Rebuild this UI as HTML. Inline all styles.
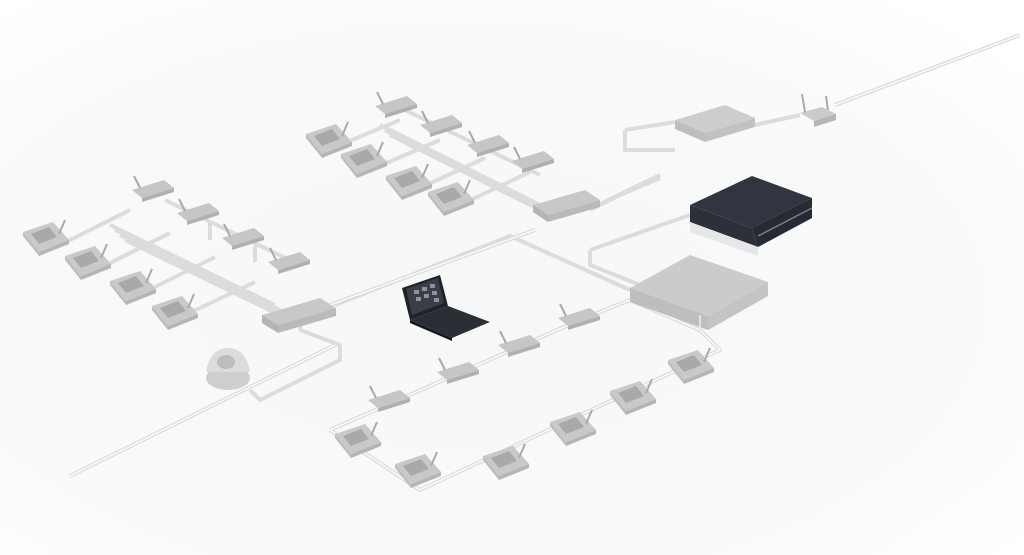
<!DOCTYPE html>
<html><head><style>
html,body{margin:0;padding:0;background:#fff;}
svg{display:block}
</style></head><body>
<svg width="1024" height="555" viewBox="0 0 1024 555" xmlns="http://www.w3.org/2000/svg">
<defs>
<radialGradient id="bg" cx="0.45" cy="0.55" r="0.7">
<stop offset="0" stop-color="#f6f7f8"/><stop offset="0.7" stop-color="#f9fafa"/><stop offset="1" stop-color="#ffffff"/>
</radialGradient>
<g id="con">
<polygon points="-22,-6 8,-16 24,2 -6,14" fill="#c9c9c9"/>
<polygon points="-6,14 24,2 24,6 -6,18" fill="#b5b5b5"/>
<polygon points="-22,-6 -6,14 -6,18 -22,-2" fill="#bdbdbd"/>
<polygon points="-14,-4 4,-11 12,-1 -6,6" fill="#a9a9a9"/>
<line x1="14" y1="-4" x2="20" y2="-18" stroke="#aaa" stroke-width="2"/>
</g>
<g id="mic">
<polygon points="-20,-2 12,-12 22,-4 -10,6" fill="#c6c6c6"/>
<polygon points="-10,6 22,-4 22,0 -10,10" fill="#b0b0b0"/>
<line x1="-12" y1="-4" x2="-18" y2="-16" stroke="#aaa" stroke-width="2"/>
</g>
</defs>
<rect width="1024" height="555" fill="url(#bg)"/>
<g fill="none" stroke="#dcdcdc" stroke-width="4" stroke-linejoin="round">
<path d="M70,476 L335,345 M300,330 L300,320 M330,305 L535,230 M590,210 L620,195 L660,178 M598,205 L660,175 M625,130 L625,150 L675,150 M625,130 L675,122 M755,125 L800,115 M835,105 L1020,35"/>
<path d="M335,305 L510,236 L630,290 M590,250 L590,265 L640,285 M590,250 L690,215"/>
<path d="M300,330 L340,345 L340,360 L260,400 L250,390"/>
<path d="M330,430 L420,490 L720,350 L700,330 L630,300 L580,320 L330,430"/>
<path d="M110,225 L275,305 M115,230 L280,310 M120,235 L285,315 M125,240 L290,320"/>
<path d="M380,125 L540,205 M385,130 L545,210 M390,135 L550,215"/>
<path d="M60,245 L130,210 M100,268 L170,233 M145,292 L215,257 M185,315 L255,282"/>
<path d="M165,200 L300,265 M210,222 L210,240 M255,246 L255,262"/>
<path d="M340,145 L400,120 M375,168 L440,140 M420,188 L485,158 M460,205 L530,172 M405,110 L540,175"/>
</g>
<g fill="none" stroke="#fff" stroke-width="1.3">
<path d="M70,476 L335,345 M330,305 L535,230 M835,105 L1020,35 M330,430 L420,490 L720,350 L700,330 L630,300 L580,320 L330,430"/>
</g>
<!-- top group -->
<use href="#mic" x="395" y="108"/><use href="#mic" x="440" y="127"/><use href="#mic" x="487" y="147"/><use href="#mic" x="532" y="163"/>
<use href="#con" x="328" y="140"/><use href="#con" x="363" y="160"/><use href="#con" x="408" y="182"/><use href="#con" x="450" y="198"/>
<!-- left group -->
<use href="#mic" x="152" y="192"/><use href="#mic" x="197" y="215"/><use href="#mic" x="242" y="240"/><use href="#mic" x="288" y="264"/>
<use href="#con" x="45" y="238"/><use href="#con" x="87" y="262"/><use href="#con" x="132" y="287"/><use href="#con" x="174" y="312"/>
<!-- loop -->
<use href="#mic" x="388" y="402"/><use href="#mic" x="457" y="374"/><use href="#mic" x="518" y="347"/><use href="#mic" x="578" y="320"/>
<use href="#con" x="690" y="366"/><use href="#con" x="632" y="397"/><use href="#con" x="572" y="428"/><use href="#con" x="505" y="462"/>
<use href="#con" x="357" y="440"/><use href="#con" x="417" y="470"/>
<!-- switches -->
<polygon points="262,315 320,298 336,308 278,325" fill="#c8c8c8"/><polygon points="262,315 278,325 278,333 262,323" fill="#b4b4b4"/><polygon points="278,325 336,308 336,316 278,333" fill="#bababa"/>
<polygon points="533,205 585,190 600,200 548,215" fill="#c8c8c8"/><polygon points="533,205 548,215 548,222 533,212" fill="#b4b4b4"/><polygon points="548,215 600,200 600,207 548,222" fill="#bababa"/>
<!-- top box -->
<polygon points="675,120 725,105 755,118 705,133" fill="#cdcdcd"/><polygon points="675,120 705,133 705,142 675,129" fill="#bdbdbd"/><polygon points="705,133 755,118 755,127 705,142" fill="#c2c2c2"/>
<!-- router -->
<polygon points="800,113 822,107 836,114 814,121" fill="#cacaca"/><polygon points="814,121 836,114 836,120 814,127" fill="#b5b5b5"/>
<line x1="805" y1="112" x2="802" y2="94" stroke="#aaa" stroke-width="2"/><line x1="828" y1="110" x2="826" y2="96" stroke="#aaa" stroke-width="2"/>
<!-- dark server -->
<polygon points="690,205 752,176 812,198 752,228" fill="#30353f"/>
<polygon points="752,228 812,198 812,218 758,247" fill="#252a33"/>
<polygon points="690,205 752,228 758,247 690,222" fill="#2b3039"/>
<line x1="758" y1="236" x2="812" y2="208" stroke="#7a7f88" stroke-width="1.5"/>
<polygon points="690,222 758,247 758,256 690,232" fill="#e6e7e9"/>
<!-- big gray box -->
<polygon points="630,288 690,255 768,282 708,316" fill="#cbcbcb"/>
<polygon points="630,288 708,316 708,330 630,302" fill="#bebebe"/>
<polygon points="708,316 768,282 768,296 708,330" fill="#c4c4c4"/>
<line x1="700" y1="315" x2="700" y2="330" stroke="#eee" stroke-width="1.5"/>
<!-- laptop -->
<polygon points="402,288 440,275 448,306 410,320" fill="#1e2328"/>
<polygon points="406,289 438,278 444,303 412,315" fill="#3a3f47"/>
<g fill="#8d939c"><rect x="414" y="290" width="5" height="4"/><rect x="422" y="287" width="5" height="4"/><rect x="430" y="284" width="5" height="4"/><rect x="416" y="297" width="5" height="4"/><rect x="424" y="294" width="5" height="4"/><rect x="432" y="291" width="5" height="4"/><rect x="434" y="298" width="5" height="4"/></g>
<polygon points="410,320 448,306 490,322 452,338" fill="#2a2f36"/>
<polygon points="410,320 452,338 452,341 410,323" fill="#15181c"/>
<!-- dome camera -->
<ellipse cx="228" cy="378" rx="22" ry="12" fill="#cfcfcf"/>
<path d="M206,372 Q210,348 228,348 Q246,348 250,372 Z" fill="#dcdcdc"/>
<ellipse cx="226" cy="362" rx="9" ry="7" fill="#bdbdbd"/>
</svg>
</body></html>
